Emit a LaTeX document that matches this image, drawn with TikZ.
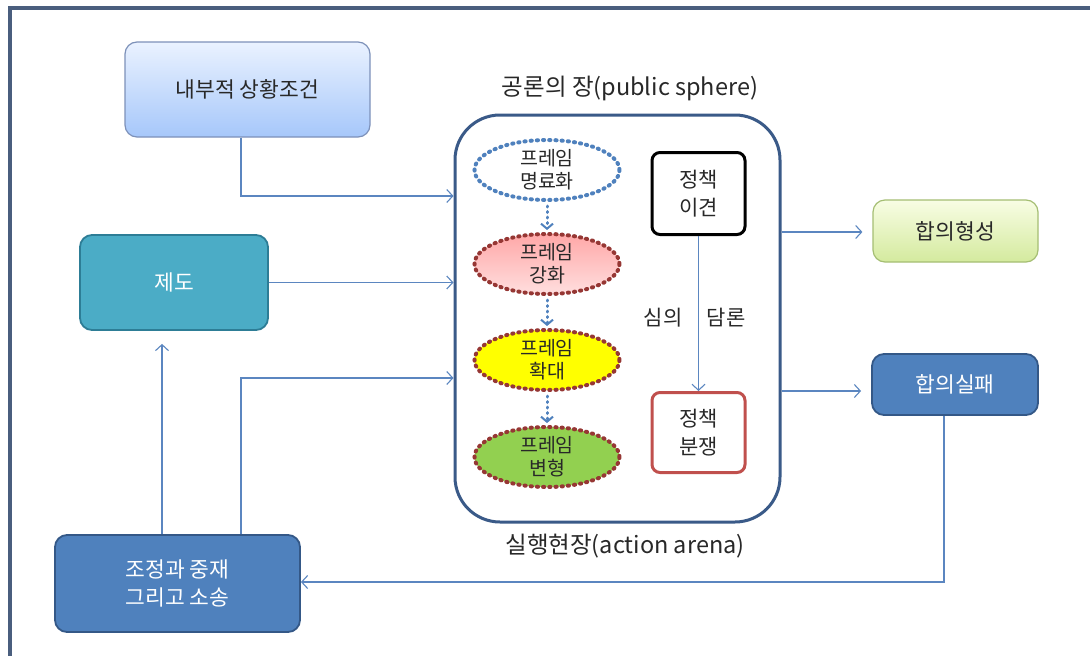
\documentclass[tikz,border=0pt]{standalone}
\usepackage{fontspec}
\setmainfont{Noto Sans CJK KR}
\usetikzlibrary{arrows.meta,shapes.geometric,calc}
\definecolor{conncol}{RGB}{91,134,192}
\definecolor{framecol}{RGB}{74,94,126}
\definecolor{instfill}{RGB}{75,172,198}
\definecolor{instdraw}{RGB}{45,125,150}
\definecolor{medfill}{RGB}{79,129,189}
\definecolor{meddraw}{RGB}{52,88,135}
\definecolor{agtop}{RGB}{248,253,228}
\definecolor{agbot}{RGB}{212,234,158}
\definecolor{agdraw}{RGB}{165,190,115}
\definecolor{cotop}{RGB}{234,242,255}
\definecolor{cobot}{RGB}{166,199,250}
\definecolor{codraw}{RGB}{125,145,185}
\definecolor{arenadraw}{RGB}{58,90,136}
\definecolor{dotblue}{RGB}{79,129,189}
\definecolor{dotred}{RGB}{150,55,52}
\definecolor{pinktop}{RGB}{255,168,168}
\definecolor{pinkbot}{RGB}{255,222,222}
\definecolor{yel}{RGB}{255,255,0}
\definecolor{grn}{RGB}{146,208,80}
\definecolor{disputecol}{RGB}{192,80,77}
\definecolor{txt}{RGB}{40,40,40}
\tikzset{
  conn/.style={draw=conncol, line width=1.1pt, -{Straight Barb[length=6pt,width=13pt,line width=1.1pt]}},
  box/.style={rectangle, rounded corners=12pt, line width=1.8pt, align=center, font=\fontsize{21.5}{27}\selectfont},
  ell/.style={ellipse, minimum width=145pt, minimum height=60pt, align=center, inner sep=0pt,
     dash pattern=on 1.2pt off 5pt, line cap=round, line width=4pt, text=txt,
     font=\fontsize{19.5}{23}\selectfont},
  darr/.style={draw=dotblue, line width=3pt, dash pattern=on 1pt off 4.5pt, line cap=round,
     -{Straight Barb[length=5pt,width=12pt,line width=2pt]}, shorten <=4pt, shorten >=2pt},
  pbox/.style={rectangle, rounded corners=8pt, line width=3pt, fill=white, minimum width=93pt,
     minimum height=82pt, align=center, text=txt, font=\fontsize{21}{28}\selectfont},
  lbl/.style={text=txt, font=\fontsize{23.5}{28}\selectfont}
}
\begin{document}
\begin{tikzpicture}[x=1pt,y=-1pt]
\useasboundingbox (0,0) rectangle (1090,656);
\fill[white] (0,0) rectangle (1090,656);
\draw[framecol, line width=3.5pt] (10,656) -- (10,8) -- (1090,8);

% outer nodes
\node[box, top color=cotop, bottom color=cobot, draw=codraw, line width=1.2pt,
      minimum width=245pt, minimum height=95pt, text=txt] (cond) at (247.5,89.5) {내부적 상황조건};
\node[box, fill=instfill, draw=instdraw, minimum width=188pt, minimum height=95pt, text=white] (inst) at (174,282.5) {제도};
\node[box, fill=medfill, draw=meddraw, minimum width=245pt, minimum height=97pt, text=white,
      font=\fontsize{21.5}{28}\selectfont] (med) at (177.5,583.5) {조정과 중재\\그리고 소송};
\node[box, top color=agtop, bottom color=agbot, draw=agdraw, line width=1.2pt,
      minimum width=165pt, minimum height=62pt, text=txt] (agree) at (955.5,231) {합의형성};
\node[box, fill=medfill, draw=meddraw, minimum width=166pt, minimum height=61pt, text=white] (fail) at (955,384.5) {합의실패};

% arena
\node[rectangle, rounded corners=45pt, draw=arenadraw, line width=3pt, fill=white,
      minimum width=325pt, minimum height=407pt] (arena) at (617.5,318.5) {};
\node[lbl] (t1) at (630,88) {공론의 장(public sphere)};
\node[lbl] (t2) at (625,546) {실행현장(action arena)};

% ellipses
\node[ell, draw=dotblue, fill=white] (e1) at (547,170) {프레임\\명료화};
\node[ell, draw=dotred, top color=pinktop, bottom color=pinkbot] (e2) at (547,264) {프레임\\강화};
\node[ell, draw=dotred, fill=yel] (e3) at (547,360) {프레임\\확대};
\node[ell, draw=dotred, fill=grn] (e4) at (547,457) {프레임\\변형};
\draw[darr] (e1.south) -- (e2.north);
\draw[darr] (e2.south) -- (e3.north);
\draw[darr] (e3.south) -- (e4.north);

% policy boxes
\node[pbox, draw=black] (p1) at (698.5,193.5) {정책\\이견};
\node[pbox, draw=disputecol, minimum height=80pt] (p2) at (698.5,432.5) {정책\\분쟁};
\draw[conn] (p1.south) -- (p2.north);
\node[lbl, font=\fontsize{21}{24}\selectfont] (l1) at (663,318) {심의};
\node[lbl, font=\fontsize{21}{24}\selectfont] (l2) at (726,318) {담론};

% connectors
\draw[conn] (241,0 |- cond.south) |- (arena.west |- 0,196);
\draw[conn] (inst.east) -- (inst.east -| arena.west);
\draw[conn] (241,0 |- med.north) |- (arena.west |- 0,378);
\draw[conn, shorten >=13pt] (162,0 |- med.north) -- (162,0 |- inst.south);
\draw[conn, shorten >=10pt] (arena.east |- 0,232) -- (agree.west |- 0,232);
\draw[conn, shorten >=10pt] (arena.east |- 0,391) -- (fail.west |- 0,391);
\draw[conn] (944,0 |- fail.south) |- (med.east |- 0,582);
\end{tikzpicture}
\end{document}
